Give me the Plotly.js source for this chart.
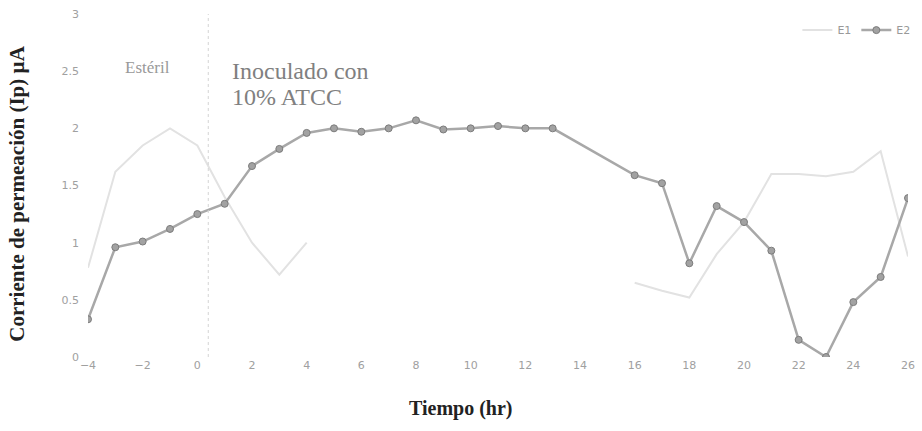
<!DOCTYPE html>
<html>
<head>
<meta charset="utf-8">
<script src="https://cdn.plot.ly/plotly-3.0.1.min.js"></script>
<style>
  html, body { margin: 0; padding: 0; background: #fff; }
  #chart { width: 922px; height: 431px; }
</style>
</head>
<body>
<div id="chart"></div>
<script>
// Tiempo (hr) for each electrode series
const tiempoE1 = [-4, -3, -2, -1, 0, 1, 2, 3, 4, 5, 6, 7, 8, 9, 10, 11, 12, 13, 14, 15, 16, 17, 18, 19, 20, 21, 22, 23, 24, 25, 26];
const corrienteE1 = [0.78, 1.62, 1.85, 2.0, 1.85, 1.4, 1.0, 0.72, 1.0, null, null, null, null, null, null, null, null, null, null, null, 0.65, 0.58, 0.52, 0.9, 1.18, 1.6, 1.6, 1.58, 1.62, 1.8, 0.88];

const tiempoE2 = [-4, -3, -2, -1, 0, 1, 2, 3, 4, 5, 6, 7, 8, 9, 10, 11, 12, 13, 16, 17, 18, 19, 20, 21, 22, 23, 24, 25, 26];
const corrienteE2 = [0.33, 0.96, 1.01, 1.12, 1.25, 1.34, 1.67, 1.82, 1.96, 2.0, 1.97, 2.0, 2.07, 1.99, 2.0, 2.02, 2.0, 2.0, 1.59, 1.52, 0.82, 1.32, 1.18, 0.93, 0.15, 0.0, 0.48, 0.7, 1.39];

const xTicks = [-4, -2, 0, 2, 4, 6, 8, 10, 12, 14, 16, 18, 20, 22, 24, 26];
const yTicks = [0, 0.5, 1, 1.5, 2, 2.5, 3];
const yTickText = ['0', '0.5', '1', '1.5', '2', '2.5', '3'];

// moment of inoculation (separates the sterile phase from the inoculated one)
const inoculacion = 0.4;

const serif = 'Liberation Serif';
const tickFont = { family: 'DejaVu Sans', size: 11, color: '#a0a0a0' };

const traces = [
  {
    x: tiempoE1, y: corrienteE1, name: 'E1', type: 'scatter', mode: 'lines',
    connectgaps: false,
    line: { color: '#e2e2e2', width: 2 }
  },
  {
    x: tiempoE2, y: corrienteE2, name: 'E2', type: 'scatter', mode: 'lines+markers',
    line: { color: '#a8a8a8', width: 2.5 },
    marker: { symbol: 'circle', size: 7, color: '#a2a2a2', line: { color: '#7c7c7c', width: 1 } }
  }
];

const layout = {
  width: 922, height: 431,
  margin: { l: 88, r: 14, t: 14, b: 74, autoexpand: false },
  paper_bgcolor: '#fff', plot_bgcolor: '#fff',
  showlegend: true,
  legend: {
    orientation: 'h', x: 1.009, xanchor: 'right', y: 0.953, yanchor: 'middle',
    font: { family: 'DejaVu Sans', size: 11, color: '#999' },
    bgcolor: 'rgba(0,0,0,0)', itemwidth: 30
  },
  xaxis: {
    range: [-4, 26], tickvals: xTicks, showgrid: false, zeroline: false, showline: false,
    ticks: '', tickfont: tickFont
  },
  yaxis: {
    range: [0, 3], tickvals: yTicks, ticktext: yTickText, showgrid: false, zeroline: false, showline: false,
    ticks: '', ticklabelstandoff: 8, tickfont: tickFont
  },
  shapes: [
    {
      type: 'line', xref: 'x', yref: 'paper', x0: inoculacion, x1: inoculacion, y0: 0, y1: 1,
      line: { color: '#d4d4d4', width: 1, dash: 'dot' }
    }
  ],
  annotations: [
    {
      text: '<b>Tiempo (hr)</b>', xref: 'paper', yref: 'paper', x: 0.455, y: -0.149,
      xanchor: 'center', yanchor: 'middle',
      showarrow: false, font: { family: serif, size: 20, color: '#222' }
    },
    {
      text: '<b>Corriente de permeación (Ip) µA</b>', xref: 'paper', yref: 'paper', x: -0.087, y: 0.475,
      xanchor: 'center', yanchor: 'middle',
      textangle: -90, showarrow: false, font: { family: serif, size: 21, color: '#222' }
    },
    {
      text: 'Estéril', xref: 'x', yref: 'y', x: -1.84, y: 2.53, showarrow: false,
      font: { family: serif, size: 17, color: '#999' }
    },
    {
      text: 'Inoculado con', xref: 'x', yref: 'y', x: 1.2, y: 2.5, showarrow: false,
      xanchor: 'left', font: { family: serif, size: 24, color: '#808080' }
    },
    {
      text: '10% ATCC', xref: 'x', yref: 'y', x: 1.2, y: 2.27, showarrow: false,
      xanchor: 'left', font: { family: serif, size: 24, color: '#808080' }
    }
  ]
};

Plotly.newPlot('chart', traces, layout, { displayModeBar: false, staticPlot: true });
</script>
</body>
</html>
